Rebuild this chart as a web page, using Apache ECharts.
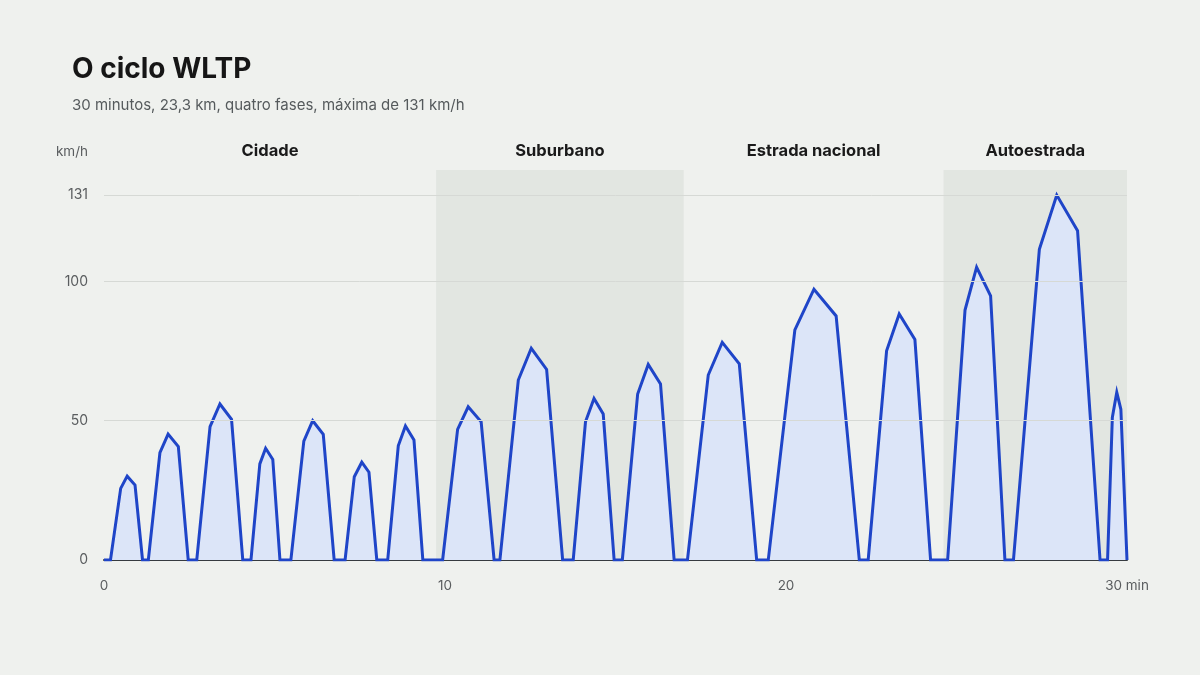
<!DOCTYPE html>
<html>
<head>
<meta charset="utf-8">
<script src="https://cdn.jsdelivr.net/npm/echarts@6/dist/echarts.min.js"></script>
<style>
  html, body { margin: 0; padding: 0; background: #eff1ee; }
  #chart { width: 1200px; height: 675px; }
</style>
</head>
<body>
<div id="chart"></div>
<script>
// Time in minutes, speed in km/h
const timeMin = [
  0,
  0.19, 0.49, 0.68, 0.91, 1.13,
  1.30, 1.64, 1.88, 2.18, 2.47,
  2.72, 3.11, 3.40, 3.74, 4.07,
  4.31, 4.57, 4.74, 4.95, 5.16,
  5.48, 5.86, 6.12, 6.43, 6.75,
  7.07, 7.34, 7.56, 7.77, 8.00,
  8.32, 8.63, 8.84, 9.09, 9.35,
  9.93, 10.37, 10.68, 11.06, 11.44,
  11.61, 12.15, 12.53, 12.98, 13.45,
  13.76, 14.12, 14.37, 14.64, 14.96,
  15.20, 15.65, 15.96, 16.32, 16.72,
  17.11, 17.72, 18.13, 18.63, 19.14,
  19.48, 20.26, 20.82, 21.47, 22.15,
  22.41, 22.95, 23.32, 23.78, 24.24,
  24.74, 25.25, 25.59, 26.00, 26.42,
  26.67, 27.43, 27.94, 28.55, 29.21,
  29.43, 29.57, 29.70, 29.82, 30.00
];
const speedKmh = [
  0,
  0, 25.7, 30.1, 26.9, 0,
  0, 38.5, 45.2, 40.7, 0,
  0, 47.9, 56.0, 50.5, 0,
  0, 34.5, 40.1, 36.1, 0,
  0, 42.7, 50.0, 45.1, 0,
  0, 29.9, 35.1, 31.5, 0,
  0, 41.0, 48.1, 43.1, 0,
  0, 46.9, 55.0, 49.6, 0,
  0, 64.6, 76.0, 68.4, 0,
  0, 49.6, 58.0, 52.4, 0,
  0, 59.6, 70.2, 63.2, 0,
  0, 66.4, 78.1, 70.4, 0,
  0, 82.6, 97.2, 87.6, 0,
  0, 75.1, 88.3, 79.2, 0,
  0, 89.7, 105.1, 94.8, 0,
  0, 111.5, 131.0, 118.2, 0,
  0, 51.2, 60.2, 54.1, 0
];
const phaseNames = ['Cidade', 'Suburbano', 'Estrada nacional', 'Autoestrada'];
const phaseStart = [0, 9.74, 17.0, 24.62];
const phaseEnd = [9.74, 17.0, 24.62, 30];
const phaseShaded = [false, true, false, true];
const yTicks = [0, 50, 100, 131];
const xTicks = [0, 10, 20, 30];

const FONT = 'Inter, "Liberation Sans", sans-serif';
const chart = echarts.init(document.getElementById('chart'));

const lineData = timeMin.map((t, i) => [t, speedKmh[i]]);
const areaData = phaseNames.map((n, i) => [
  { name: n, xAxis: phaseStart[i], itemStyle: { color: phaseShaded[i] ? '#e2e6e1' : 'rgba(0,0,0,0)' } },
  { xAxis: phaseEnd[i] }
]);
const gridLineData = yTicks.filter(v => v > 0).map(v => ({ yAxis: v }));

chart.setOption({
  backgroundColor: '#eff1ee',
  animation: false,
  title: {
    text: 'O ciclo WLTP',
    subtext: '30 minutos, 23,3 km, quatro fases, máxima de 131 km/h',
    left: 67,
    top: 51,
    itemGap: 14,
    textStyle: { fontFamily: FONT, fontSize: 28, fontWeight: 700, color: '#161616' },
    subtextStyle: { fontFamily: FONT, fontSize: 15, color: '#555a5c' }
  },
  grid: { left: 104, right: 73, top: 170, bottom: 115, containLabel: false },
  xAxis: {
    type: 'value',
    min: 0,
    max: 30,
    interval: 10,
    axisLine: { show: true, onZero: true, lineStyle: { color: '#363b40', width: 2 } },
    axisTick: { show: false },
    splitLine: { show: false },
    axisLabel: {
      margin: 19,
      fontFamily: FONT,
      fontSize: 13.5,
      color: '#5a5d5f',
      formatter: v => (v === 30 ? '30 min' : String(v)),
      customValues: xTicks
    }
  },
  yAxis: {
    type: 'value',
    min: 0,
    max: 140,
    name: 'km/h',
    nameLocation: 'end',
    nameGap: 11,
    nameTextStyle: { fontFamily: FONT, fontSize: 13.5, color: '#5a5d5f', align: 'right', padding: [0, 16, 0, 0] },
    axisLine: { show: false },
    axisTick: { show: false },
    splitLine: { show: false },
    axisLabel: {
      margin: 16,
      fontFamily: FONT,
      fontSize: 14,
      color: '#5a5d5f',
      customValues: yTicks
    }
  },
  series: [
    {
      type: 'line',
      data: [],
      z: 1,
      silent: true,
      markArea: {
        silent: true,
        label: {
          show: true,
          position: 'top',
          distance: 10,
          fontFamily: FONT,
          fontSize: 16.5,
          fontWeight: 700,
          color: '#1a1a1a'
        },
        data: areaData
      }
    },
    {
      type: 'line',
      data: [],
      z: 2,
      silent: true,
      markLine: {
        silent: true,
        symbol: 'none',
        label: { show: false },
        lineStyle: { color: '#d6d9d5', width: 1, type: 'solid' },
        data: gridLineData
      }
    },
    {
      type: 'line',
      data: lineData,
      z: 3,
      showSymbol: false,
      symbol: 'none',
      smooth: false,
      lineStyle: { color: '#1f45c8', width: 3, join: 'miter' },
      areaStyle: { color: '#dce5f8', opacity: 1 }
    }
  ]
});
</script>
</body>
</html>
